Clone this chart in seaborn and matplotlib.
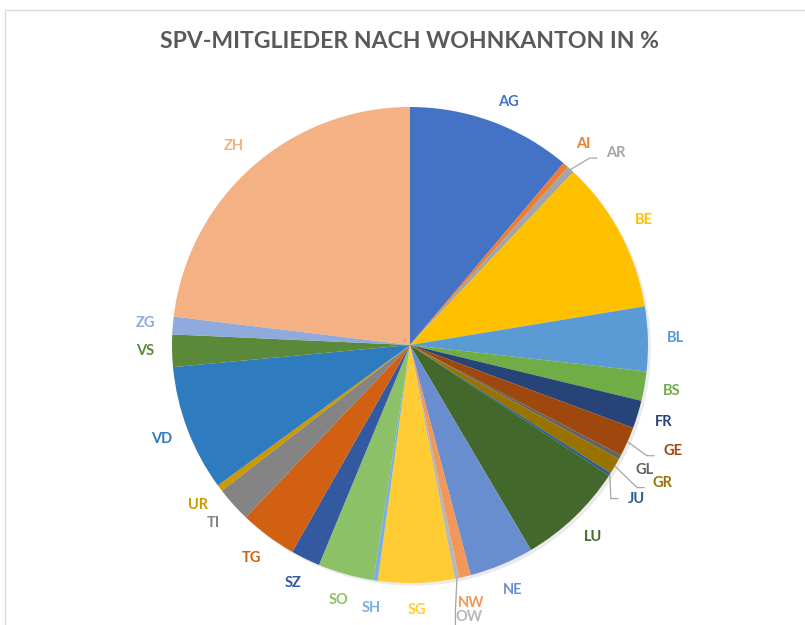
import numpy as np
import matplotlib
matplotlib.use("Agg")
import matplotlib.pyplot as plt
import seaborn as sns
from matplotlib.patches import Rectangle

sns.set_theme(style="white")
plt.rcParams['font.family'] = ['Lato', 'DejaVu Sans']

cantons = ["AG", "AI", "AR", "BE", "BL", "BS", "FR", "GE", "GL", "GR", "JU", "LU", "NE",
           "NW", "OW", "SG", "SH", "SO", "SZ", "TG", "TI", "UR", "VD", "VS", "ZG", "ZH"]
shares = [11.2, 0.4, 0.5, 10.4, 4.4, 2.0, 1.9, 2.0, 0.3, 1.1, 0.2, 7.3, 4.4,
          0.8, 0.3, 5.2, 0.3, 3.8, 2.0, 3.9, 2.4, 0.45, 8.6, 2.2, 1.2, 23.2]
colors_hex = ["#4472C4", "#ED7D31", "#A5A5A5", "#FFC000", "#5B9BD5", "#70AD47",
              "#264478", "#9E480E", "#636363", "#997300", "#255E91", "#43682B",
              "#698ED0", "#F1975A", "#B7B7B7", "#FFCD33", "#7CAFDD", "#8CC168",
              "#335AA1", "#D26012", "#848484", "#CC9A00", "#2E7BC0", "#5A8A39",
              "#8FAADC", "#F4B183"]
title = "SPV-MITGLIEDER NACH WOHNKANTON IN %"

# label placement tweaks (radius factor, angle offset in degrees clockwise)
label_radius = {"AR": 1.18, "GE": 1.19, "GR": 1.21, "JU": 1.15, "OW": 1.17, "AG": 1.10}
label_dangle = {"AR": 4.5, "GE": -2.0, "GR": -2.0, "JU": 1.2, "OW": -0.9, "AG": 2.0}
leader = {"AR", "GE", "GR", "JU", "OW"}

palette = sns.color_palette(colors_hex)

W, H = 805, 625
fig = plt.figure(figsize=(W / 100, H / 100), dpi=100)
fig.patch.set_facecolor("white")
cx, cy, R = 410, 345, 238
ax = fig.add_axes([0, 0, 1, 1])

# faint shadow
shadow = plt.Circle((0.012, -0.012), 1.0, color="#000000", alpha=0.08, lw=0, zorder=0)
ax.add_patch(shadow)

wedges, _ = ax.pie(shares, colors=palette, startangle=90, counterclock=False,
                   radius=1.0, wedgeprops=dict(linewidth=0), normalize=True)
ax.set_aspect("auto")
ax.set_xlim(-cx / R, (W - cx) / R)
ax.set_ylim(-(H - cy) / R, cy / R)
ax.axis("off")

for w, lab, col in zip(wedges, cantons, colors_hex):
    mid = 0.5 * (w.theta1 + w.theta2)
    r = label_radius.get(lab, 1.115)
    ang = np.deg2rad(mid - label_dangle.get(lab, 0.0))
    tx, ty = r * np.cos(ang), r * np.sin(ang)
    ax.text(tx, ty, lab, color=col, fontsize=10.5, fontweight="bold",
            ha="center", va="center", zorder=5)
    if lab in leader:
        m = np.deg2rad(mid)
        sx, sy = 1.0 * np.cos(m), 1.0 * np.sin(m)
        if lab == "OW":
            ex = tx - 0.058
            ax.plot([sx, ex, ex], [sy, ty + 0.03, ty - 0.06], color="#A6A6A6", lw=0.9, zorder=4)
        else:
            ex, ey = tx - 0.078, ty - 0.02
            if lab == "JU":
                ey = ty
            ax.plot([sx, ex - 0.03, ex], [sy, ey, ey], color="#A6A6A6", lw=0.9, zorder=4)

fig.text(410 / W, 1 - 42 / H, title, ha="center", va="center", fontsize=16.6,
         fontweight="bold", color="#595959")

# chart frame (partially cropped in reference)
fig.patches.append(Rectangle((5 / W, -0.05), 1.2, 1 - 10 / H + 0.05, transform=fig.transFigure,
                             fill=False, edgecolor="#D9D9D9", lw=1.0))

fig.savefig("out.png", dpi=100, facecolor="white")
